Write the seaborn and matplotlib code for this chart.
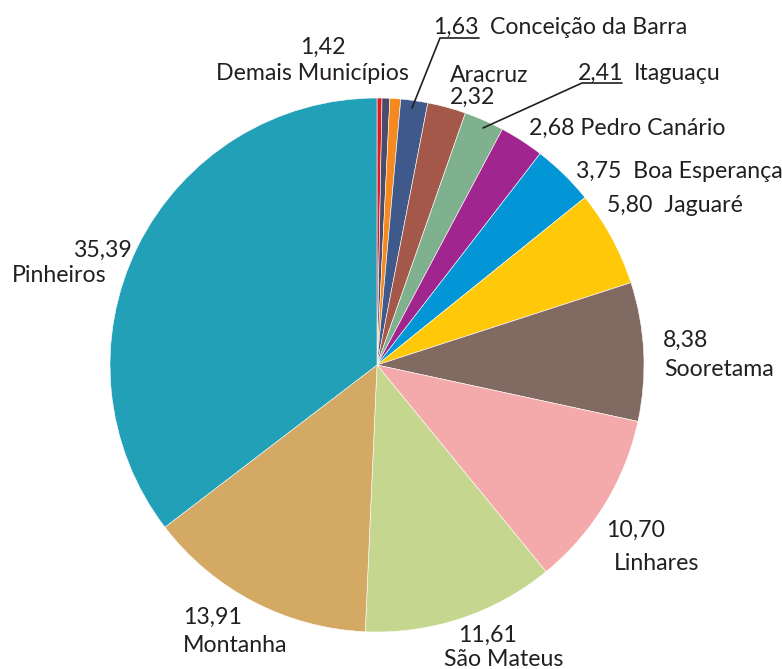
import numpy as np
import matplotlib
matplotlib.use("Agg")
import matplotlib.pyplot as plt
import seaborn as sns

# slices clockwise from the top
municipios = ['Demais Municípios', 'Demais Municípios', 'Demais Municípios',
              'Conceição da Barra', 'Aracruz', 'Itaguaçu', 'Pedro Canário',
              'Boa Esperança', 'Jaguaré', 'Sooretama', 'Linhares',
              'São Mateus', 'Montanha', 'Pinheiros']
valores = [0.30, 0.47, 0.65, 1.63, 2.32, 2.41, 2.68, 3.75, 5.80, 8.38,
           10.70, 11.61, 13.91, 35.39]
cores = ['#e21b23', '#4b4b6a', '#f5891f', '#3f5a8a', '#a4584a', '#80b18f',
         '#a0258e', '#0296d6', '#ffc90a', '#816a62', '#f4a9aa', '#c5d68f',
         '#d4a964', '#21a0b8']

# labelled values (Demais Municípios shown as one total)
rotulos = ['Demais Municípios', 'Conceição da Barra', 'Aracruz', 'Itaguaçu',
           'Pedro Canário', 'Boa Esperança', 'Jaguaré', 'Sooretama',
           'Linhares', 'São Mateus', 'Montanha', 'Pinheiros']
rot_valores = [1.42, 1.63, 2.32, 2.41, 2.68, 3.75, 5.80, 8.38, 10.70,
               11.61, 13.91, 35.39]

W, H = 782, 669
cx, cy, r = 377, 365, 267

sns.set_style("white")
plt.rcParams['font.family'] = ['Lato', 'DejaVu Sans']

fig = plt.figure(figsize=(W / 100, H / 100), dpi=100)
ax = fig.add_axes([0, 0, 1, 1])
ax.pie(valores, colors=cores, startangle=90, counterclock=False,
       wedgeprops=dict(edgecolor='white', linewidth=0.4))
ax.set_xlim(-cx / r, (W - cx) / r)
ax.set_ylim(-(H - cy) / r, cy / r)
ax.set_aspect('equal')
ax.axis('off')


def P(x, y):
    return ((x - cx) / r, (cy - y) / r)


def fmt(v):
    return f'{v:.2f}'.replace('.', ',')


fs = 16.7
tc = '#231f20'

def txt(x, y, s, ha='left'):
    ax.text(*P(x, y), s, ha=ha, va='center', fontsize=fs, color=tc)

lab = dict(zip(rotulos, rot_valores))

txt(323, 47, fmt(lab['Demais Municípios']), ha='center')
txt(312, 73, 'Demais Municípios', ha='center')

txt(479, 27, fmt(lab['Conceição da Barra']), ha='right')
txt(490, 27, 'Conceição da Barra')
xs, ys = zip(P(412, 108), P(440, 38), P(479, 38))
ax.plot(xs, ys, color=tc, lw=1.2)

txt(450, 75, 'Aracruz')
txt(450, 97, fmt(lab['Aracruz']))

txt(623, 73, fmt(lab['Itaguaçu']), ha='right')
txt(634, 73, 'Itaguaçu')
xs, ys = zip(P(483, 128), P(582, 83), P(622, 83))
ax.plot(xs, ys, color=tc, lw=1.2)

txt(529, 128, fmt(lab['Pedro Canário']) + ' Pedro Canário')
txt(576, 171, fmt(lab['Boa Esperança']) + '  Boa Esperança')
txt(607, 206, fmt(lab['Jaguaré']) + '  Jaguaré')

txt(663, 340, fmt(lab['Sooretama']))
txt(664, 369, 'Sooretama')

txt(606, 530, fmt(lab['Linhares']))
txt(614, 563, 'Linhares')

txt(458, 635, fmt(lab['São Mateus']))
txt(444, 659, 'São Mateus')

txt(183, 617, fmt(lab['Montanha']))
txt(183, 645, 'Montanha')

txt(73, 250, fmt(lab['Pinheiros']))
txt(12, 275, 'Pinheiros')

fig.savefig('out.png', dpi=100)
